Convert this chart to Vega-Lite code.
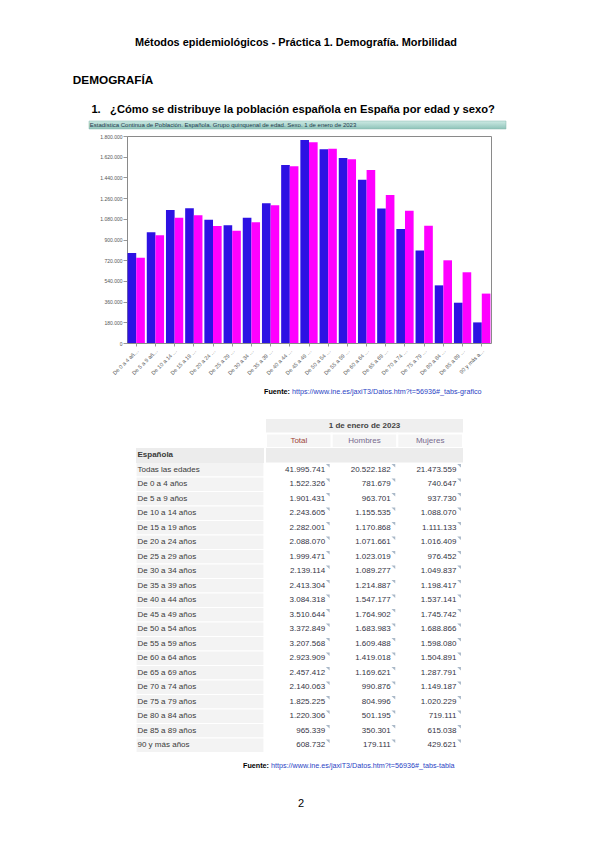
{
  "$schema": "https://vega.github.io/schema/vega-lite/v6.json",
  "background": "white",
  "padding": {"left": 72, "top": 36, "right": 0, "bottom": 0},
  "config": {
    "font": "Liberation Sans",
    "view": {"stroke": null},
    "locale": {"number": {"decimal": ",", "thousands": ".", "grouping": [3], "currency": ["", " €"]}},
    "title": {"font": "Liberation Sans", "color": "#000000"}
  },
  "title": {"text": "Métodos epidemiológicos - Práctica 1. Demografía. Morbilidad", "anchor": "middle", "dx": 3, "fontSize": 10.9, "fontWeight": "bold", "offset": 27},
  "datasets": {
    "poblacion": [
      {"grupo": "Todas las edades", "sexo": "Total", "valor": 41995741},
      {"grupo": "Todas las edades", "sexo": "Hombres", "valor": 20522182},
      {"grupo": "Todas las edades", "sexo": "Mujeres", "valor": 21473559},
      {"grupo": "De 0 a 4 años", "sexo": "Total", "valor": 1522326},
      {"grupo": "De 0 a 4 años", "sexo": "Hombres", "valor": 781679},
      {"grupo": "De 0 a 4 años", "sexo": "Mujeres", "valor": 740647},
      {"grupo": "De 5 a 9 años", "sexo": "Total", "valor": 1901431},
      {"grupo": "De 5 a 9 años", "sexo": "Hombres", "valor": 963701},
      {"grupo": "De 5 a 9 años", "sexo": "Mujeres", "valor": 937730},
      {"grupo": "De 10 a 14 años", "sexo": "Total", "valor": 2243605},
      {"grupo": "De 10 a 14 años", "sexo": "Hombres", "valor": 1155535},
      {"grupo": "De 10 a 14 años", "sexo": "Mujeres", "valor": 1088070},
      {"grupo": "De 15 a 19 años", "sexo": "Total", "valor": 2282001},
      {"grupo": "De 15 a 19 años", "sexo": "Hombres", "valor": 1170868},
      {"grupo": "De 15 a 19 años", "sexo": "Mujeres", "valor": 1111133},
      {"grupo": "De 20 a 24 años", "sexo": "Total", "valor": 2088070},
      {"grupo": "De 20 a 24 años", "sexo": "Hombres", "valor": 1071661},
      {"grupo": "De 20 a 24 años", "sexo": "Mujeres", "valor": 1016409},
      {"grupo": "De 25 a 29 años", "sexo": "Total", "valor": 1999471},
      {"grupo": "De 25 a 29 años", "sexo": "Hombres", "valor": 1023019},
      {"grupo": "De 25 a 29 años", "sexo": "Mujeres", "valor": 976452},
      {"grupo": "De 30 a 34 años", "sexo": "Total", "valor": 2139114},
      {"grupo": "De 30 a 34 años", "sexo": "Hombres", "valor": 1089277},
      {"grupo": "De 30 a 34 años", "sexo": "Mujeres", "valor": 1049837},
      {"grupo": "De 35 a 39 años", "sexo": "Total", "valor": 2413304},
      {"grupo": "De 35 a 39 años", "sexo": "Hombres", "valor": 1214887},
      {"grupo": "De 35 a 39 años", "sexo": "Mujeres", "valor": 1198417},
      {"grupo": "De 40 a 44 años", "sexo": "Total", "valor": 3084318},
      {"grupo": "De 40 a 44 años", "sexo": "Hombres", "valor": 1547177},
      {"grupo": "De 40 a 44 años", "sexo": "Mujeres", "valor": 1537141},
      {"grupo": "De 45 a 49 años", "sexo": "Total", "valor": 3510644},
      {"grupo": "De 45 a 49 años", "sexo": "Hombres", "valor": 1764902},
      {"grupo": "De 45 a 49 años", "sexo": "Mujeres", "valor": 1745742},
      {"grupo": "De 50 a 54 años", "sexo": "Total", "valor": 3372849},
      {"grupo": "De 50 a 54 años", "sexo": "Hombres", "valor": 1683983},
      {"grupo": "De 50 a 54 años", "sexo": "Mujeres", "valor": 1688866},
      {"grupo": "De 55 a 59 años", "sexo": "Total", "valor": 3207568},
      {"grupo": "De 55 a 59 años", "sexo": "Hombres", "valor": 1609488},
      {"grupo": "De 55 a 59 años", "sexo": "Mujeres", "valor": 1598080},
      {"grupo": "De 60 a 64 años", "sexo": "Total", "valor": 2923909},
      {"grupo": "De 60 a 64 años", "sexo": "Hombres", "valor": 1419018},
      {"grupo": "De 60 a 64 años", "sexo": "Mujeres", "valor": 1504891},
      {"grupo": "De 65 a 69 años", "sexo": "Total", "valor": 2457412},
      {"grupo": "De 65 a 69 años", "sexo": "Hombres", "valor": 1169621},
      {"grupo": "De 65 a 69 años", "sexo": "Mujeres", "valor": 1287791},
      {"grupo": "De 70 a 74 años", "sexo": "Total", "valor": 2140063},
      {"grupo": "De 70 a 74 años", "sexo": "Hombres", "valor": 990876},
      {"grupo": "De 70 a 74 años", "sexo": "Mujeres", "valor": 1149187},
      {"grupo": "De 75 a 79 años", "sexo": "Total", "valor": 1825225},
      {"grupo": "De 75 a 79 años", "sexo": "Hombres", "valor": 804996},
      {"grupo": "De 75 a 79 años", "sexo": "Mujeres", "valor": 1020229},
      {"grupo": "De 80 a 84 años", "sexo": "Total", "valor": 1220306},
      {"grupo": "De 80 a 84 años", "sexo": "Hombres", "valor": 501195},
      {"grupo": "De 80 a 84 años", "sexo": "Mujeres", "valor": 719111},
      {"grupo": "De 85 a 89 años", "sexo": "Total", "valor": 965339},
      {"grupo": "De 85 a 89 años", "sexo": "Hombres", "valor": 350301},
      {"grupo": "De 85 a 89 años", "sexo": "Mujeres", "valor": 615038},
      {"grupo": "90 y más años", "sexo": "Total", "valor": 608732},
      {"grupo": "90 y más años", "sexo": "Hombres", "valor": 179111},
      {"grupo": "90 y más años", "sexo": "Mujeres", "valor": 429621}
    ]
  },
  "spacing": 4,
  "vconcat": [
    {
      "title": {
        "text": "DEMOGRAFÍA",
        "subtitle": "\u200b\u00a0\u00a0\u00a0\u00a0\u00a0\u00a01.\u00a0\u00a0\u00a0¿Cómo se distribuye la población española en España por edad y sexo?",
        "anchor": "start", "dx": -16,
        "fontSize": 11.8, "fontWeight": "bold", "color": "#000000",
        "subtitleFont": "Liberation Sans", "subtitleFontSize": 11.2, "subtitleFontWeight": "bold", "subtitleColor": "#000000",
        "subtitlePadding": 17, "offset": 6
      },
      "spacing": 3,
      "vconcat": [
        {
          "width": 417, "height": 8,
          "data": {"values": [{"titulo": "Estadística Continua de Población. Española. Grupo quinquenal de edad. Sexo. 1 de enero de 2023"}]},
          "title": {"text": "Estadística Continua de Población. Española. Grupo quinquenal de edad. Sexo. 1 de enero de 2023", "anchor": "start", "fontSize": 6, "fontWeight": "normal", "color": "#1f3b4d", "offset": -7, "dx": 1},
          "mark": {"type": "rect", "fill": {"gradient": "linear", "x1": 0, "y1": 0, "x2": 0, "y2": 1, "stops": [{"offset": 0, "color": "#cdeae4"}, {"offset": 1, "color": "#8ec3b9"}]}, "stroke": "#86b7ae", "strokeWidth": 0.5}
        },
        {
          "spacing": 0,
          "hconcat": [
            {
              "width": 1, "height": 1,
              "data": {"values": [{"vacio": ""}]},
              "mark": {"type": "point", "opacity": 0, "size": 1}
            },
            {
              "width": 364, "height": 207,
              "data": {"name": "poblacion"},
              "transform": [{"filter": "datum.sexo != 'Total' && datum.grupo != 'Todas las edades'"}],
              "view": {"stroke": "#8a8a8a", "strokeWidth": 1},
              "mark": {"type": "bar"},
              "encoding": {
                "x": {"field": "grupo", "type": "nominal", "sort": null,
                  "scale": {"paddingInner": 0.1, "paddingOuter": 0.03},
                  "axis": {"title": null, "labelAngle": -45, "labelFontSize": 5.5, "labelColor": "#555555", "labelLimit": 34, "tickSize": 3, "tickColor": "#999999", "domain": false, "labelPadding": 2}},
                "xOffset": {"field": "sexo", "type": "nominal", "sort": ["Hombres", "Mujeres"], "scale": {"paddingInner": 0}},
                "y": {"field": "valor", "type": "quantitative",
                  "scale": {"domain": [0, 1800000], "nice": false},
                  "axis": {"title": null, "values": [0, 180000, 360000, 540000, 720000, 900000, 1080000, 1260000, 1440000, 1620000, 1800000], "format": ",.0f", "labelFontSize": 5, "labelColor": "#555555", "tickSize": 4, "tickColor": "#999999", "domainColor": "#8a8a8a", "grid": false, "minExtent": 36, "labelPadding": 1}},
                "color": {"field": "sexo", "type": "nominal", "scale": {"domain": ["Hombres", "Mujeres"], "range": ["#2d12e3", "#ff00ff"]}, "legend": null}
              }
            }
          ]
        }
      ]
    },
    {
      "width": 402, "height": 34,
      "data": {"values": [{"etiqueta": "Fuente:", "enlace": "https://www.ine.es/jaxiT3/Datos.htm?t=56936#_tabs-grafico"}]},
      "layer": [
        {"mark": {"type": "text", "align": "right", "fontWeight": "bold", "fontSize": 7.2, "color": "#000000", "dy": -6}, "encoding": {"text": {"field": "etiqueta"}}},
        {"mark": {"type": "text", "align": "left", "fontSize": 7.2, "color": "#2a43c4", "dx": 2, "dy": -6}, "encoding": {"text": {"field": "enlace"}}}
      ]
    },
    {
      "spacing": 0,
      "hconcat": [
        {
          "width": 46, "height": 1,
          "data": {"values": [{"vacio": ""}]},
          "mark": {"type": "point", "opacity": 0, "size": 1}
        },
        {
          "width": 128, "height": 333.5,
          "data": {"name": "poblacion"},
          "transform": [{"filter": "datum.sexo == 'Total'"}],
          "layer": [
            {
              "mark": {"type": "rect", "fill": "#f3f3f3", "stroke": "#ffffff", "strokeWidth": 1.2},
              "encoding": {
                "y": {"field": "grupo", "type": "nominal",
                  "scale": {"domain": ["fecha", "columnas", "Española", "Todas las edades", "De 0 a 4 años", "De 5 a 9 años", "De 10 a 14 años", "De 15 a 19 años", "De 20 a 24 años", "De 25 a 29 años", "De 30 a 34 años", "De 35 a 39 años", "De 40 a 44 años", "De 45 a 49 años", "De 50 a 54 años", "De 55 a 59 años", "De 60 a 64 años", "De 65 a 69 años", "De 70 a 74 años", "De 75 a 79 años", "De 80 a 84 años", "De 85 a 89 años", "90 y más años"], "paddingInner": 0, "paddingOuter": 0},
                  "axis": {"title": null, "orient": "left", "labelAlign": "left", "labelPadding": -1, "ticks": false, "domain": false, "labelFontSize": 8, "labelColor": "#3a3a3a", "minExtent": 0, "zindex": 2,
                    "labelExpr": "datum.value == 'fecha' || datum.value == 'columnas' ? '' : (datum.value == 'Española' ? datum.value : '\u00a0\u00a0\u00a0' + datum.value)",
                    "labelFontWeight": {"expr": "datum.value == 'Española' ? 'bold' : 'normal'"}}}
              }
            },
            {
              "mark": {"type": "rect", "fill": "#ececec"},
              "encoding": {"y": {"datum": "Española", "type": "nominal"}}
            }
          ]
        },
        {
          "width": 197, "height": 333.5,
          "layer": [
            {
              "data": {"values": [{"fecha": "1 de enero de 2023"}]},
              "mark": {"type": "rect", "fill": "#efefef"},
              "encoding": {"y": {"datum": "fecha", "type": "nominal",
                "scale": {"domain": ["fecha", "columnas", "Española", "Todas las edades", "De 0 a 4 años", "De 5 a 9 años", "De 10 a 14 años", "De 15 a 19 años", "De 20 a 24 años", "De 25 a 29 años", "De 30 a 34 años", "De 35 a 39 años", "De 40 a 44 años", "De 45 a 49 años", "De 50 a 54 años", "De 55 a 59 años", "De 60 a 64 años", "De 65 a 69 años", "De 70 a 74 años", "De 75 a 79 años", "De 80 a 84 años", "De 85 a 89 años", "90 y más años"], "paddingInner": 0, "paddingOuter": 0},
                "axis": null}}
            },
            {
              "data": {"values": [{"fecha": "1 de enero de 2023"}]},
              "mark": {"type": "text", "fontSize": 8, "fontWeight": "bold", "color": "#444444"},
              "encoding": {"y": {"datum": "fecha", "type": "nominal"}, "text": {"field": "fecha"}}
            },
            {
              "data": {"name": "poblacion"},
              "transform": [{"filter": "datum.grupo == 'Todas las edades'"}],
              "layer": [
                {
                  "mark": {"type": "rect", "fill": "#f5f5f5", "stroke": "#ffffff", "strokeWidth": 2},
                  "encoding": {
                    "x": {"field": "sexo", "type": "nominal", "sort": ["Total", "Hombres", "Mujeres"], "scale": {"domain": ["Total", "Hombres", "Mujeres"], "paddingInner": 0, "paddingOuter": 0}, "axis": null},
                    "y": {"datum": "columnas", "type": "nominal"}
                  }
                },
                {
                  "mark": {"type": "text", "fontSize": 8},
                  "encoding": {
                    "x": {"field": "sexo", "type": "nominal"},
                    "y": {"datum": "columnas", "type": "nominal"},
                    "text": {"field": "sexo"},
                    "color": {"condition": {"test": "datum.sexo == 'Total'", "value": "#a0453a"}, "value": "#776a8e"}
                  }
                }
              ]
            },
            {
              "data": {"values": [{"fila": "Española"}]},
              "mark": {"type": "rect", "fill": "#ececec"},
              "encoding": {"y": {"field": "fila", "type": "nominal"}}
            },
            {
              "data": {"name": "poblacion"},
              "layer": [
                {
                  "mark": {"type": "text", "align": "right", "fontSize": 8, "color": "#353545"},
                  "encoding": {
                    "x": {"field": "sexo", "type": "nominal", "bandPosition": 0.9},
                    "y": {"field": "grupo", "type": "nominal"},
                    "text": {"field": "valor", "type": "quantitative", "format": ",.0f"}
                  }
                },
                {
                  "mark": {"type": "point", "shape": "M -1 -1 L 1 -1 L 1 1 Z", "size": 14, "filled": true, "color": "#a9b8c8", "opacity": 1, "yOffset": -4},
                  "encoding": {
                    "x": {"field": "sexo", "type": "nominal", "bandPosition": 0.94},
                    "y": {"field": "grupo", "type": "nominal"}
                  }
                }
              ]
            }
          ]
        }
      ]
    },
    {
      "width": 360, "height": 16,
      "data": {"values": [{"etiqueta": "Fuente:", "enlace": "https://www.ine.es/jaxiT3/Datos.htm?t=56936#_tabs-tabla"}]},
      "layer": [
        {"mark": {"type": "text", "align": "right", "fontWeight": "bold", "fontSize": 7.2, "color": "#000000"}, "encoding": {"text": {"field": "etiqueta"}}},
        {"mark": {"type": "text", "align": "left", "fontSize": 7.2, "color": "#2a43c4", "dx": 2}, "encoding": {"text": {"field": "enlace"}}}
      ]
    },
    {
      "width": 424, "height": 52,
      "data": {"values": [{"pagina": "2"}]},
      "mark": {"type": "text", "fontSize": 11, "color": "#000000"},
      "encoding": {"text": {"field": "pagina"}}
    }
  ]
}
